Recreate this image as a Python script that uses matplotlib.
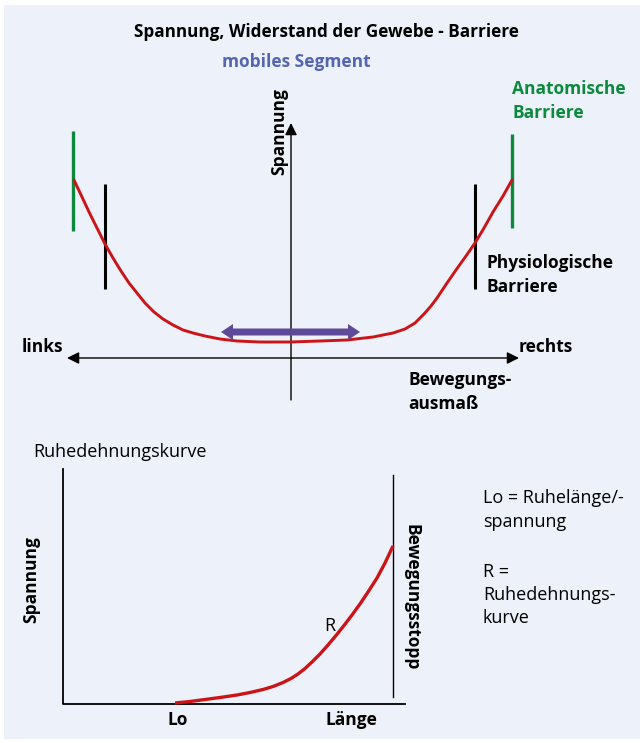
import matplotlib
matplotlib.use("Agg")
import matplotlib.pyplot as plt
from matplotlib.patches import FancyArrowPatch, Rectangle

# values (pixel coordinates of the drawing)
u_x = [74, 82, 90, 98, 105, 113, 121, 129, 137, 145, 154, 163, 173, 183, 193, 205,
       220, 237, 260, 290, 320, 347, 373, 393, 405, 415, 424, 431, 437, 447, 456,
       466, 475, 484, 493, 503, 512]
u_y = [180, 197, 214, 230, 244, 258, 271, 283, 293, 303, 312, 319, 325, 330, 333, 336,
       339, 341, 342, 342, 341, 340, 337, 333, 329, 323, 314, 306, 298, 283, 270,
       256, 243, 228, 212, 196, 180]

r_x = [175, 190, 205, 220, 237, 250, 263, 273, 283, 291, 298, 305, 312, 320, 328,
       336, 344, 352, 360, 368, 377, 385, 393]
r_y = [703, 701.5, 699.5, 697.5, 695, 692.5, 689.5, 686.5, 682.5, 678.5, 674, 668.5,
       662, 654, 645, 635.5, 625.5, 615, 604, 592, 578, 563, 546]

BG = "#edf1fa"
RED = "#cc1417"
GREEN = "#0b8a3e"
PURPLE = "#5e4a98"
BLUE = "#5566b0"
FONT = "Open Sans"
BOLD_SIZE = 12.5
NORMAL_SIZE = 13

fig = plt.figure(figsize=(6.4, 7.43), dpi=100)
ax = fig.add_axes([0, 0, 1, 1])
ax.set_xlim(0, 640)
ax.set_ylim(743, 0)
ax.axis("off")
ax.add_patch(Rectangle((4, 5), 636, 734, facecolor=BG, edgecolor="none"))

def txt(x, y, s, **kw):
    kw.setdefault("fontfamily", FONT)
    kw.setdefault("fontsize", BOLD_SIZE)
    kw.setdefault("fontweight", "bold")
    kw.setdefault("va", "center")
    ax.text(x, y, s, **kw)

def normal(x, y, s, **kw):
    txt(x, y, s, fontweight="normal", fontsize=NORMAL_SIZE, **kw)

# upper diagram
txt(326, 32, "Spannung, Widerstand der Gewebe - Barriere", ha="center", fontsize=12.3)
txt(296, 62, "mobiles Segment", ha="center", color=BLUE)
txt(512, 89, "Anatomische", color=GREEN)
txt(512, 113, "Barriere", color=GREEN)
txt(487, 263, "Physiologische")
txt(487, 287, "Barriere")
txt(22, 347, "links")
txt(519, 347, "rechts")
txt(408, 380, "Bewegungs-")
txt(408, 404, "ausmaß")
txt(279, 132, "Spannung", rotation=90, ha="center")

ax.add_patch(FancyArrowPatch((291, 400), (291, 123), arrowstyle="-|>,head_length=6,head_width=3",
                             color="black", lw=1, mutation_scale=1.2, shrinkA=0, shrinkB=0))
ax.add_patch(FancyArrowPatch((67, 358), (519, 358), arrowstyle="<|-|>,head_length=6,head_width=3",
                             color="black", lw=1, mutation_scale=1.2, shrinkA=0, shrinkB=0))

ax.plot([73, 73], [131, 231], color=GREEN, lw=2.4, solid_capstyle="butt")
ax.plot([512, 512], [134, 228], color=GREEN, lw=2.4, solid_capstyle="butt")
ax.plot([105, 105], [184, 289], color="black", lw=2.2, solid_capstyle="butt")
ax.plot([475, 475], [184, 289], color="black", lw=2.2, solid_capstyle="butt")
ax.plot(u_x, u_y, color=RED, lw=2.1, solid_capstyle="round", solid_joinstyle="round")

# purple double arrow (mobile segment)
mid = (221 + 360) / 2
for end in (221, 360):
    ax.arrow(mid, 332, end - mid, 0, width=7, head_width=16, head_length=12,
             length_includes_head=True, color=PURPLE, lw=0, zorder=4)

# lower diagram
normal(33, 452, "Ruhedehnungskurve")
ax.plot([63, 63, 405], [469, 704, 704], color="black", lw=1.3)
ax.plot([393, 393], [475, 697], color="black", lw=1)
ax.plot(r_x, r_y, color=RED, lw=2.4, solid_capstyle="butt", solid_joinstyle="round")
txt(31, 580, "Spannung", rotation=90, ha="center")
txt(412, 597, "Bewegungsstopp", rotation=-90, ha="center")
normal(324, 626, "R")
txt(178, 720, "Lo", ha="center")
txt(351, 720, "Länge", ha="center")
for yy, s in zip([498, 522, 572, 595, 618],
                 ["Lo = Ruhelänge/-", "spannung", "R =", "Ruhedehnungs-", "kurve"]):
    normal(483, yy, s)

fig.savefig("out.png", dpi=100, facecolor="white")
